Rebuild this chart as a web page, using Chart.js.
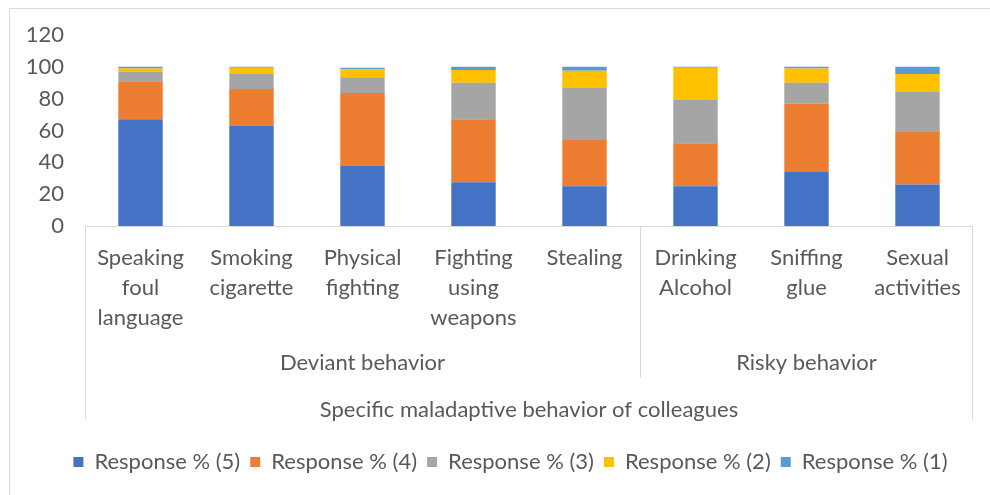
<!DOCTYPE html>
<html>
<head>
<meta charset="utf-8">
<script src="https://cdn.jsdelivr.net/npm/chart.js@4.4.1/dist/chart.umd.min.js"></script>
<style>
  html, body { margin: 0; padding: 0; background: #ffffff; }
  #wrap { width: 990px; height: 495px; position: relative; }
</style>
</head>
<body>
<div id="wrap"><canvas id="c" width="990" height="495"></canvas></div>
<script>
// ---- data ----
const categories = [
  ["Speaking", "foul", "language"],
  ["Smoking", "cigarette"],
  ["Physical", "fighting"],
  ["Fighting", "using", "weapons"],
  ["Stealing"],
  ["Drinking", "Alcohol"],
  ["Sniffing", "glue"],
  ["Sexual", "activities"]
];
const groupNames = ["Deviant behavior", "Risky behavior"];
const groupSizes = [5, 3];
const axisTitle = "Specific maladaptive behavior of colleagues";
const seriesNames = ["Response % (5)", "Response % (4)", "Response % (3)", "Response % (2)", "Response % (1)"];
const resp5 = [67, 63, 38, 27.5, 25, 25, 34, 26];
const resp4 = [24, 23, 45.5, 39.5, 29, 27, 43, 33];
const resp3 = [6, 9.5, 10, 23, 33, 27.5, 13, 25.5];
const resp2 = [2, 4, 5, 8, 10.5, 20, 9, 11];
const resp1 = [1, 0.5, 1, 2, 2.5, 0.5, 1, 4.5];
const yTicks = [0, 20, 40, 60, 80, 100, 120];

const colors = ["#4472C4", "#ED7D31", "#A5A5A5", "#FFC000", "#5B9BD5"];
const FONT = "Lato, 'Liberation Sans', sans-serif";
const FS = 22;
const TEXT = "#595959";
const LINE = "#d9d9d9";

const seriesValues = [resp5, resp4, resp3, resp2, resp1];

const groupPlugin = {
  id: "groupPlugin",
  afterLayout(chart) {
    // centre the legend under the plot the way the original does
    const lg = chart.legend;
    if (lg) { lg.left += 24; lg.right += 24; }
  },
  beforeDraw(chart) {
    const ctx = chart.ctx;
    ctx.save();
    ctx.strokeStyle = LINE;
    ctx.lineWidth = 1;
    ctx.beginPath();
    ctx.moveTo(9.5, 495);
    ctx.lineTo(9.5, 8.5);
    ctx.lineTo(990, 8.5);
    ctx.stroke();
    ctx.restore();
  },
  afterDraw(chart) {
    const ctx = chart.ctx;
    const x = chart.scales.x;
    const area = chart.chartArea;
    const bottom = area.bottom;
    ctx.save();
    ctx.strokeStyle = LINE;
    ctx.lineWidth = 1;
    ctx.beginPath();
    ctx.moveTo(area.left, bottom + 0.5);
    ctx.lineTo(area.right, bottom + 0.5);
    ctx.stroke();
    const outerBottom = 420;
    const groupBottom = 378;
    ctx.beginPath();
    ctx.moveTo(Math.round(area.left) + 0.5, bottom);
    ctx.lineTo(Math.round(area.left) + 0.5, outerBottom);
    ctx.moveTo(Math.round(area.right) - 0.5, bottom);
    ctx.lineTo(Math.round(area.right) - 0.5, outerBottom);
    ctx.stroke();
    ctx.fillStyle = TEXT;
    ctx.font = FS + "px " + FONT;
    ctx.textAlign = "center";
    ctx.textBaseline = "middle";
    let start = 0;
    groupSizes.forEach((n, gi) => {
      const end = start + n - 1;
      const cx = (x.getPixelForValue(start) + x.getPixelForValue(end)) / 2;
      ctx.fillText(groupNames[gi], cx, 363);
      if (gi < groupSizes.length - 1) {
        const sx = Math.round((x.getPixelForValue(end) + x.getPixelForValue(end + 1)) / 2) + 0.5;
        ctx.beginPath();
        ctx.moveTo(sx, bottom);
        ctx.lineTo(sx, groupBottom);
        ctx.stroke();
      }
      start += n;
    });
    ctx.restore();
  }
};

new Chart(document.getElementById("c"), {
  type: "bar",
  data: {
    labels: categories,
    datasets: seriesNames.map((name, i) => ({
      label: name,
      data: seriesValues[i],
      backgroundColor: colors[i],
      borderWidth: 0,
      barPercentage: 0.4,
      categoryPercentage: 1.0
    }))
  },
  options: {
    responsive: false,
    animation: false,
    layout: { padding: { top: 35, right: 17, bottom: 12, left: 0 } },
    scales: {
      x: {
        stacked: true,
        grid: { display: false, drawTicks: false },
        border: { display: false },
        ticks: {
          color: TEXT,
          font: { family: FONT, size: FS, lineHeight: 1.36 },
          padding: 17,
          maxRotation: 0,
          autoSkip: false
        },
        title: {
          display: true,
          text: axisTitle,
          color: TEXT,
          font: { family: FONT, size: FS },
          padding: { top: 0, bottom: 18 }
        },
        afterFit(scale) { scale.height = 215; }
      },
      y: {
        stacked: true,
        min: 0,
        max: 120,
        afterBuildTicks(scale) { scale.ticks = yTicks.map(v => ({ value: v })); },
        grid: { display: false, drawTicks: false },
        border: { display: false },
        ticks: {
          color: TEXT,
          font: { family: FONT, size: FS },
          padding: 21
        },
        afterFit(scale) { scale.width = 85; }
      }
    },
    plugins: {
      legend: {
        position: "bottom",
        labels: {
          color: TEXT,
          font: { family: FONT, size: FS },
          boxWidth: 10,
          boxHeight: 10,
          padding: 10
        }
      },
      tooltip: { enabled: false }
    }
  },
  plugins: [groupPlugin]
});
</script>
</body>
</html>
